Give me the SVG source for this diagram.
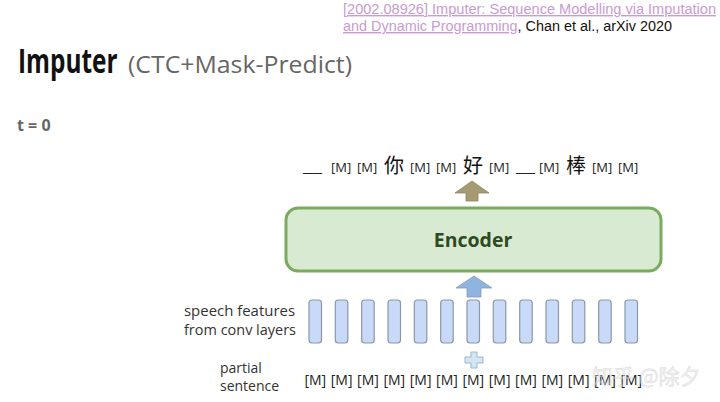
<svg xmlns="http://www.w3.org/2000/svg" width="720" height="402" viewBox="0 0 720 402">
<style>
.os{font-family:"Open Sans","Noto Sans","Liberation Sans",sans-serif}
.cite{font-family:"Liberation Sans",Arial,sans-serif;font-size:14px}
.m{font-family:"Open Sans","Noto Sans",sans-serif;font-size:13px;fill:#222}
.zh{font-family:"Noto Sans CJK SC","Noto Sans",sans-serif;font-size:20px;fill:#111}
.lbl{font-family:"Open Sans","Noto Sans",sans-serif;font-size:14px;fill:#333}
.bar{fill:#c9daf8;stroke:#8a98a8;stroke-width:1.2}
.bm{font-family:"Open Sans","Noto Sans",sans-serif;font-size:14px;fill:#222;text-anchor:middle}
</style>
<rect width="720" height="402" fill="#ffffff"/>
<g id="citation">
<text class="cite" x="343" y="14" fill="#c99bd1" text-decoration="underline" textLength="373" lengthAdjust="spacingAndGlyphs">[2002.08926] Imputer: Sequence Modelling via Imputation</text>
<text class="cite" x="343" y="31" textLength="329" lengthAdjust="spacingAndGlyphs"><tspan fill="#c99bd1" text-decoration="underline">and Dynamic Programming</tspan><tspan fill="#111">, Chan et al., arXiv 2020</tspan></text>
</g>
<g id="title">
<text class="os" transform="translate(18,73) scale(0.76,1)" x="0" y="0" font-size="34" font-weight="bold" fill="#111" textLength="131" lengthAdjust="spacingAndGlyphs">Imputer</text>
<text class="os" x="128" y="73" font-size="23" fill="#666" textLength="224" lengthAdjust="spacingAndGlyphs">(CTC+Mask-Predict)</text>
</g>
<g id="step">
<text class="os" x="17" y="131" font-size="16" font-weight="bold" fill="#666">t = 0</text>
</g>
<g id="output-sequence">
<text class="m" x="303" y="172" textLength="19" lengthAdjust="spacingAndGlyphs">__</text>
<text class="m" x="331" y="172">[M]</text>
<text class="m" x="357" y="172">[M]</text>
<text class="zh" x="384" y="173">你</text>
<text class="m" x="410" y="172">[M]</text>
<text class="m" x="436" y="172">[M]</text>
<text class="zh" x="463" y="173">好</text>
<text class="m" x="489" y="172">[M]</text>
<text class="m" x="516" y="172" textLength="19" lengthAdjust="spacingAndGlyphs">__</text>
<text class="m" x="539" y="172">[M]</text>
<text class="zh" x="566" y="173">棒</text>
<text class="m" x="592" y="172">[M]</text>
<text class="m" x="618" y="172">[M]</text>
</g>
<g id="encoder">
<rect x="286" y="208" width="375" height="63" rx="12" fill="#d9ead3" stroke="#7aab5e" stroke-width="3"/>
<text class="os" x="473" y="247" font-size="19.5" font-weight="bold" fill="#2d4a22" text-anchor="middle">Encoder</text>
</g>
<g id="speech-features">
<text class="lbl" x="184" y="316" textLength="111" lengthAdjust="spacingAndGlyphs">speech features</text>
<text class="lbl" x="184" y="335" textLength="112" lengthAdjust="spacingAndGlyphs">from conv layers</text>
<rect class="bar" x="309" y="300" width="12.5" height="43" rx="3"/>
<rect class="bar" x="335.3" y="300" width="12.5" height="43" rx="3"/>
<rect class="bar" x="361.7" y="300" width="12.5" height="43" rx="3"/>
<rect class="bar" x="388" y="300" width="12.5" height="43" rx="3"/>
<rect class="bar" x="414.3" y="300" width="12.5" height="43" rx="3"/>
<rect class="bar" x="440.7" y="300" width="12.5" height="43" rx="3"/>
<rect class="bar" x="467" y="300" width="12.5" height="43" rx="3"/>
<rect class="bar" x="493.3" y="300" width="12.5" height="43" rx="3"/>
<rect class="bar" x="519.7" y="300" width="12.5" height="43" rx="3"/>
<rect class="bar" x="546" y="300" width="12.5" height="43" rx="3"/>
<rect class="bar" x="572.3" y="300" width="12.5" height="43" rx="3"/>
<rect class="bar" x="598.7" y="300" width="12.5" height="43" rx="3"/>
<rect class="bar" x="625" y="300" width="12.5" height="43" rx="3"/>
</g>
<g id="partial-sentence">
<text class="lbl" x="220" y="373">partial</text>
<text class="lbl" x="220" y="391">sentence</text>
<text class="bm" x="315.3" y="385">[M]</text>
<text class="bm" x="341.6" y="385">[M]</text>
<text class="bm" x="368" y="385">[M]</text>
<text class="bm" x="394.3" y="385">[M]</text>
<text class="bm" x="420.6" y="385">[M]</text>
<text class="bm" x="447" y="385">[M]</text>
<text class="bm" x="473.3" y="385">[M]</text>
<text class="bm" x="499.6" y="385">[M]</text>
<text class="bm" x="526" y="385">[M]</text>
<text class="bm" x="552.3" y="385">[M]</text>
<text class="bm" x="578.6" y="385">[M]</text>
<text class="bm" x="605" y="385">[M]</text>
<text class="bm" x="631.3" y="385">[M]</text>
</g>
<g id="connectors">
<path d="M472,181 L489,193 L478,193 L478,201 L466,201 L466,193 L455,193 Z" fill="#a69a72" stroke="#8f845f" stroke-width="0.8"/>
<path d="M474,276 L492,288 L481,288 L481,297 L467,297 L467,288 L456,288 Z" fill="#8fb4df" stroke="#7a9cc4" stroke-width="0.8"/>
<path d="M471,352 h6 v5 h6 v6 h-6 v5 h-6 v-5 h-6 v-6 h6 Z" fill="#d3e4f3" stroke="#9fb6c8" stroke-width="1"/>
</g>
<g id="watermark" opacity="0.55">
<text x="592" y="384" font-family="Noto Sans CJK SC,Noto Sans,sans-serif" font-size="21" fill="#e8e8e8" stroke="#bdbdbd" stroke-width="0.5">知乎 @除夕</text>
</g>
</svg>
